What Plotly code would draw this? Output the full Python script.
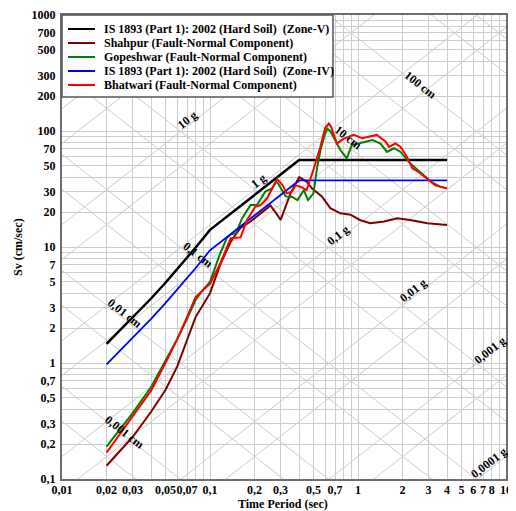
import math
import plotly.graph_objects as go

# ---------------- data ----------------
is_T = [0.02, 0.03, 0.04, 0.05, 0.06, 0.07, 0.08, 0.09, 0.1, 0.4, 4.0]
is_zone5_sv = [1.461, 2.445, 3.597, 4.918, 6.408, 8.066, 9.893, 11.89, 14.05, 56.21, 56.21]
is_zone4_sv = [0.974, 1.630, 2.398, 3.279, 4.272, 5.377, 6.595, 7.925, 9.368, 37.47, 37.47]

gop_T = [0.02, 0.03, 0.04, 0.05, 0.06, 0.07, 0.08, 0.09, 0.1, 0.116, 0.13, 0.138, 0.15, 0.165,
         0.188, 0.208, 0.236, 0.263, 0.28, 0.29, 0.31, 0.325, 0.36, 0.39, 0.41, 0.43, 0.46, 0.5,
         0.53, 0.56, 0.6, 0.62, 0.65, 0.68, 0.76, 0.84, 0.91, 1.01, 1.15, 1.25, 1.42, 1.57, 1.75,
         1.94, 2.25, 2.77, 3.1, 3.6, 4.0]
gop_sv = [0.19, 0.37, 0.62, 1.05, 1.6, 2.4, 3.5, 4.3, 5.0, 8.5, 12.0, 12.8, 13.2, 17.7,
          23, 23, 30, 32, 36.6, 35, 30, 27.3, 27, 25.4, 28, 31, 25.4, 29,
          49, 70, 95, 105, 100, 89, 68.6, 58, 76, 78, 81, 83.5, 78, 66, 71,
          66, 52.6, 41.8, 36.7, 33, 32]

bha_T = [0.02, 0.03, 0.04, 0.05, 0.06, 0.07, 0.08, 0.095, 0.1, 0.116, 0.138, 0.161, 0.178,
         0.202, 0.22, 0.243, 0.263, 0.284, 0.31, 0.33, 0.358, 0.38, 0.41, 0.45, 0.5, 0.557,
         0.6, 0.636, 0.66, 0.72, 0.79, 0.866, 0.935, 1.07, 1.21, 1.34, 1.54, 1.62, 1.79, 1.94,
         2.14, 2.33, 2.56, 2.94, 3.33, 4.0]
bha_sv = [0.169, 0.35, 0.577, 1.0, 1.6, 2.5, 3.7, 4.55, 4.8, 7.0, 11.9, 12.1, 17.1,
          22.2, 23, 26.3, 31.9, 38.6, 34, 29, 30, 34, 33, 31, 46.4, 73,
          106, 116, 108, 78, 85, 89, 92.5, 86.5, 89.3, 92.5, 81, 73, 78, 73,
          60, 47.6, 44.5, 39, 34, 32]

sha_T = [0.02, 0.03, 0.04, 0.05, 0.06, 0.07, 0.08, 0.09, 0.1, 0.118, 0.138, 0.16, 0.179,
         0.188, 0.22, 0.256, 0.284, 0.3, 0.35, 0.4, 0.45, 0.49, 0.57, 0.65, 0.76, 0.89,
         1.03, 1.21, 1.5, 1.84, 2.25, 2.94, 4.0]
sha_sv = [0.13, 0.23, 0.38, 0.585, 0.93, 1.55, 2.5, 3.2, 4.0, 7.2, 11.1, 14.5, 16.0,
          16.6, 19.5, 22.8, 19, 17.1, 29, 40, 36.6, 31.9, 27.3, 21.6, 19.5, 19,
          17.1, 16, 16.6, 17.7, 17.1, 16, 15.5]

x_tick_vals = [0.01, 0.02, 0.03, 0.05, 0.07, 0.1, 0.2, 0.3, 0.5, 0.7, 1, 2, 3, 4, 5, 6, 7, 8, 10]
x_tick_text = ["0,01", "0,02", "0,03", "0,05", "0,07", "0,1", "0,2", "0,3", "0,5", "0,7",
               "1", "2", "3", "4", "5", "6", "7", "8", "10"]
y_tick_vals = [0.1, 0.2, 0.3, 0.5, 0.7, 1, 2, 3, 5, 7, 10, 20, 30, 50, 70, 100, 200, 300, 500, 700, 1000]
y_tick_text = ["0,1", "0,2", "0,3", "0,5", "0,7", "1", "2", "3", "5", "7", "10", "20", "30",
               "50", "70", "100", "200", "300", "500", "700", "1000"]

# tripartite grid levels
accel_levels_g = [1e-5, 5e-5, 1e-4, 5e-4, 1e-3, 5e-3, 1e-2, 5e-2, 0.1, 0.5, 1, 5, 10, 50, 100, 500, 1000]
disp_levels_cm = [1e-5, 5e-5, 1e-4, 5e-4, 1e-3, 5e-3, 1e-2, 5e-2, 0.1, 0.5, 1, 5, 10, 50, 100, 500, 1000, 5000]

accel_labels = [("10 g", 0.0702, 124), ("1 g", 0.213, 37.1), ("0,1 g", 0.737, 12.7),
                ("0,01 g", 2.37, 4.26), ("0,001 g", 7.85, 1.29), ("0,0001 g", 7.62, 0.137)]
disp_labels = [("100 cm", 2.64, 249), ("10 cm", 0.85, 88.7), ("0,1 cm", 0.0829, 8.5),
               ("0,01 cm", 0.0264, 2.7), ("0,001 cm", 0.0264, 0.256)]

G = 981.0
TWO_PI = 2 * math.pi
GRID = "#cccccc"
SERIF = "Liberation Serif"

# figure geometry (page body has an 8px default margin)
OFF = 8
W, H = 508, 503
ML, MR, MT, MB = 54, 10, 7, 32
PW, PH = W - ML - MR, H - MT - MB

def px_x(p):  # window pixel -> paper x
    return (p - OFF - ML) / PW

def px_y(p):  # window pixel -> paper y
    return (OFF + H - MB - p) / PH

fig = go.Figure()

def decade_vals(lo, hi):
    vals = []
    for e in range(lo, hi):
        for m in range(1, 10):
            vals.append(m * 10 ** e)
    vals.append(10 ** hi)
    return vals

gx = decade_vals(-2, 1)
gy = decade_vals(-1, 3)

# diagonal grid lines
Tends = [0.005, 20]
dx, dy = [], []
for a in accel_levels_g:
    for T in Tends:
        dx.append(T); dy.append(a * G * T / TWO_PI)
    dx.append(None); dy.append(None)
for d in disp_levels_cm:
    for T in Tends:
        dx.append(T); dy.append(TWO_PI * d / T)
    dx.append(None); dy.append(None)
fig.add_trace(go.Scatter(x=dx, y=dy, mode="lines", line=dict(color=GRID, width=1),
                         hoverinfo="skip", showlegend=False))

series = [
    ("IS 1893 (Part 1): 2002 (Hard Soil)  (Zone-V)", is_T, is_zone5_sv, "#000000", 2.5),
    ("Shahpur (Fault-Normal Component)", sha_T, sha_sv, "#800000", 2),
    ("Gopeshwar (Fault-Normal Component)", gop_T, gop_sv, "#008000", 2),
    ("IS 1893 (Part 1): 2002 (Hard Soil)  (Zone-IV)", is_T, is_zone4_sv, "#0000ff", 1.8),
    ("Bhatwari (Fault-Normal Component)", bha_T, bha_sv, "#ff0000", 2),
]
for name, xs, ys, col, w in series:
    fig.add_trace(go.Scatter(x=xs, y=ys, mode="lines", name=name, showlegend=False,
                             line=dict(color=col, width=w)))

bold = dict(family=SERIF, size=12, color="black", weight="bold")
annots = []
for txt, T, sv in accel_labels:
    annots.append(dict(x=math.log10(T), y=math.log10(sv), xref="x", yref="y", text=txt,
                       showarrow=False, textangle=-38, font=bold))
for txt, T, sv in disp_labels:
    annots.append(dict(x=math.log10(T), y=math.log10(sv), xref="x", yref="y", text=txt,
                       showarrow=False, textangle=38, font=bold))
annots.append(dict(x=px_x(283), y=px_y(504), xref="paper", yref="paper", yanchor="middle",
                   text="Time Period (sec)", showarrow=False, borderpad=0, font=bold))
annots.append(dict(x=px_x(18), y=px_y(247), xref="paper", yref="paper", xanchor="center",
                   yanchor="middle", text="Sv (cm/sec)", showarrow=False, textangle=-90,
                   font=bold))

# hand-drawn legend (tight row spacing as in the reference)
shapes = [dict(type="rect", xref="paper", yref="paper", layer="above",
               x0=px_x(62), x1=px_x(333), y0=px_y(97), y1=px_y(15),
               fillcolor="white", line=dict(color="#555555", width=1.5))]
row_y = [29, 43, 57, 71, 85]
for (name, xs, ys, col, w), ry in zip(series, row_y):
    shapes.append(dict(type="line", xref="paper", yref="paper", layer="above",
                       x0=px_x(68), x1=px_x(95), y0=px_y(ry), y1=px_y(ry),
                       line=dict(color=col, width=2)))
    annots.append(dict(x=px_x(102), y=px_y(ry), xref="paper", yref="paper",
                       xanchor="left", yanchor="middle", text=name, showarrow=False,
                       font=bold))

def tick_text(all_vals, lab_vals, lab_text):
    out = []
    for v in all_vals:
        t = ""
        for lv, lt in zip(lab_vals, lab_text):
            if abs(math.log10(v) - math.log10(lv)) < 1e-6:
                t = lt
        out.append(t)
    return out

axis_common = dict(type="log", showgrid=True, gridcolor=GRID, gridwidth=1,
                   showline=True, linecolor="#6e6e6e", linewidth=2, mirror=True,
                   ticks="", zeroline=False, automargin=False, tickangle=0,
                   tickfont=bold)

fig.update_layout(
    width=W, height=H,
    margin=dict(l=ML, r=MR, t=MT, b=MB),
    paper_bgcolor="white", plot_bgcolor="white",
    showlegend=False,
    xaxis=dict(range=[-2, 1], tickmode="array", tickvals=gx, ticklabelstandoff=-1,
               ticktext=tick_text(gx, x_tick_vals, x_tick_text), **axis_common),
    yaxis=dict(range=[-1, 3], tickmode="array", tickvals=gy, ticklabelstandoff=2,
               ticktext=tick_text(gy, y_tick_vals, y_tick_text), **axis_common),
    annotations=annots,
    shapes=shapes,
)

fig.write_html("out.html")
